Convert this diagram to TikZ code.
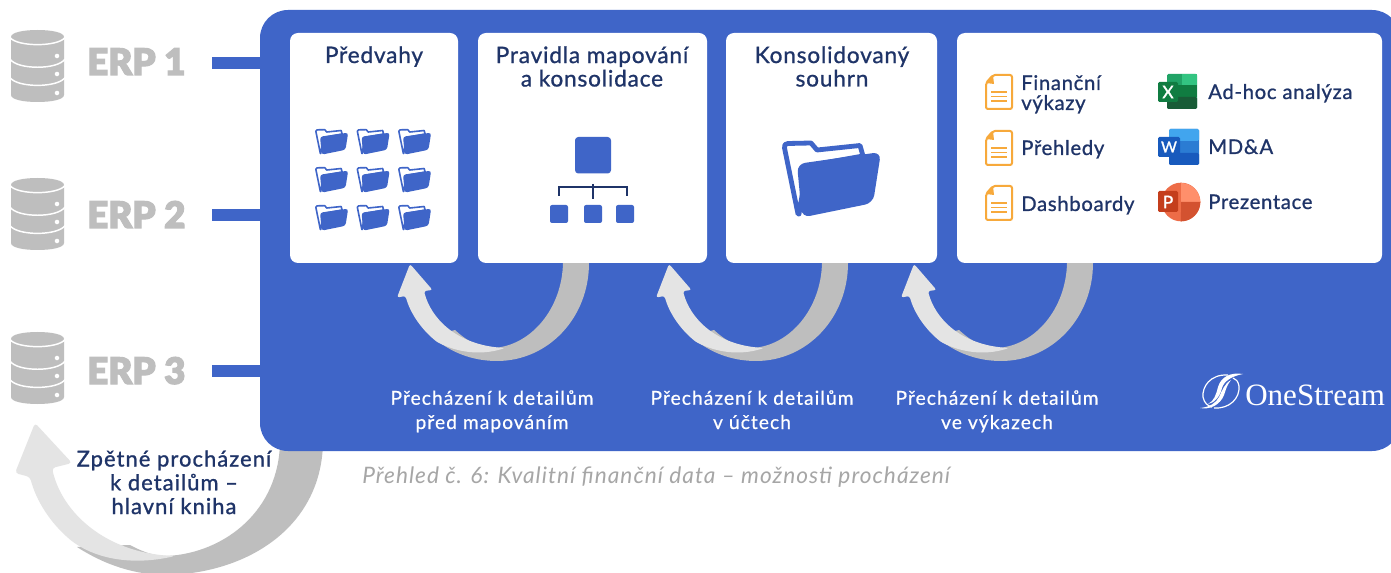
\documentclass[tikz,border=0pt]{standalone}
\usepackage{fontspec}
\setmainfont{Lato}
\newfontfamily\titlef{Lato}[FakeBold=0.9,LetterSpace=3.5]
\newfontfamily\listf{Lato}[FakeBold=0.9,LetterSpace=3.4]
\newfontfamily\detailf{Lato}[FakeBold=0.6,LetterSpace=5.5]
\newfontfamily\backf{Lato}[FakeBold=1.1,LetterSpace=5]
\newfontfamily\capf{Lato}[ItalicFeatures={LetterSpace=4.5}]
\newfontfamily\erpf{Lato Black}[FakeBold=3]
\newfontfamily\iconf{Lato}[FakeBold=1.5]
\newfontfamily\logof{Liberation Serif}
\definecolor{panelblue}{HTML}{3F65C8}
\definecolor{navy}{HTML}{1F3468}
\definecolor{arrowdark}{HTML}{BEBEBE}
\definecolor{arrowlight}{HTML}{E4E4E4}
\definecolor{dbgray}{HTML}{BEBEBE}
\definecolor{capgray}{HTML}{A6A6A6}
\definecolor{docorange}{HTML}{F7A93B}
\definecolor{xla}{HTML}{21A366}\definecolor{xlb}{HTML}{33C481}\definecolor{xlc}{HTML}{107C41}\definecolor{xld}{HTML}{185C37}
\definecolor{wda}{HTML}{2B7CD3}\definecolor{wdb}{HTML}{41A5EE}\definecolor{wdc}{HTML}{185ABD}
\definecolor{ppa}{HTML}{ED6C47}\definecolor{ppb}{HTML}{FF8F6B}\definecolor{ppc}{HTML}{D35230}\definecolor{ppd}{HTML}{C43E1C}
\tikzset{
  x=0.75pt,y=-0.75pt,
  whitebox/.style={fill=white,rounded corners=6pt,inner sep=0pt,outer sep=0pt,draw=none},
  titletext/.style={font=\titlef\fontsize{17}{17.6}\selectfont,text=navy,align=center,anchor=base,inner sep=0pt},
  listtext/.style={font=\listf\fontsize{15.2}{15}\selectfont,text=navy,align=left,anchor=base west,inner sep=0pt},
  detailtext/.style={font=\detailf\fontsize{14.4}{18.2}\selectfont,text=white,align=center,anchor=base,inner sep=0pt},
  erptext/.style={font=\erpf\fontsize{27.5}{27.5}\selectfont,text=arrowdark,anchor=base west,inner sep=0pt},
  erpbar/.style={draw=panelblue,line width=9pt},
  iconletter/.style={font=\iconf\fontsize{13}{13}\selectfont,text=white,inner sep=0pt},
}
\newcommand{\dbicon}[2]{%
 \begin{scope}[shift={(#1,#2)}]
  \fill[dbgray] (0,7) .. controls (0,2.5) and (12,0) .. (26.5,0) .. controls (41,0) and (53,2.5) .. (53,7)
     -- (53,65) .. controls (53,69.5) and (41,72) .. (26.5,72) .. controls (12,72) and (0,69.5) .. (0,65) -- cycle;
  \draw[white,line width=1.1pt] (-1,7.5) .. controls (6,17) and (47,17) .. (54,7.5);
  \draw[white,line width=1.1pt] (-1,29) .. controls (6,40) and (47,40) .. (54,29);
  \draw[white,line width=1.1pt] (-1,47.5) .. controls (6,58) and (47,58) .. (54,47.5);
  \foreach \yy in {26,44,63}{\fill[white] (46,\yy) circle (1.7pt);}
 \end{scope}}
\newcommand{\loopArrow}[1]{%
 \begin{scope}[shift={(#1,0)}]
  \fill[arrowdark] (589,263) .. controls (589,318) and (548,361) .. (497,361)
     .. controls (472,361) and (449,352) .. (432,336) -- (455,330)
     .. controls (468,342) and (480,348) .. (494,348) .. controls (532,345) and (562,308) .. (563,263) -- cycle;
  \fill[arrowlight,rounded corners=1.8pt] (410,264) -- (432.5,290) -- (424,291)
     .. controls (431,318) and (456,345) .. (505,348)
     .. controls (480,356) and (457,352) .. (437,342)
     .. controls (420,328) and (410,312) .. (405.5,296) -- (397,297.5) -- cycle;
 \end{scope}}
\newcommand{\folder}[3]{% x y scale; box 100x80
 \begin{scope}[shift={(#1,#2)},scale=#3]
  \draw[panelblue,line width=#3*3.6pt,line join=round,fill=white]
    (16,76) -- (2.5,10) .. controls (2,7) and (3,5.5) .. (6,5.5) -- (29,5) -- (35,12) -- (78,7.5) -- (81,18) -- (25,28) -- (17,76) -- cycle;
  \fill[panelblue,rounded corners=#3*6pt] (20,79.5) -- (15,26) -- (99,14) -- (91,65) -- cycle;
 \end{scope}}
\newcommand{\docicon}[2]{%
 \begin{scope}[shift={(#1,#2)}]
  \draw[docorange,line width=1.5pt,rounded corners=1.5pt,fill=white]
    (8,1) -- (27,1) -- (27,35) -- (1,35) -- (1,9) -- cycle;
  \fill[docorange] (8,1) -- (9,10) -- (1,9) -- cycle;
  \foreach \yy in {18,22.5,27}{\draw[docorange,line width=1.2pt] (6,\yy) -- (22,\yy);}
 \end{scope}}
\begin{document}
\begin{tikzpicture}
\useasboundingbox (0,0) rectangle (1391,573);
\clip (0,0) rectangle (1391,573);
\fill[white] (0,0) rectangle (1391,573);

% bottom-left arrow, under the panel
\fill[arrowdark] (323,440) .. controls (323,525) and (250,573) .. (167,575)
   .. controls (135,575) and (105,565) .. (77,547) -- (130,545)
   .. controls (145,553) and (155,556) .. (167,556)
   .. controls (225,553) and (280,510) .. (280,440) -- cycle;
\fill[arrowlight,rounded corners=2.5pt] (35,423) -- (72,463) -- (52,468)
   .. controls (62,512) and (105,553) .. (175,556)
   .. controls (135,565) and (100,560) .. (73,542)
   .. controls (50,523) and (36,500) .. (30,477) -- (15,473) -- cycle;

% panel
\node[fill=panelblue,rounded corners=21pt,minimum width=1140*0.75pt,minimum height=441*0.75pt,
      inner sep=0pt,outer sep=0pt,anchor=north west] (panel) at (260,10) {};

% connector stubs
\coordinate (bar1) at (212,63.5);
\coordinate (bar2) at (212,215.5);
\coordinate (bar3) at (212,371);
\draw[erpbar] (bar1) -- (bar1 -| panel.west);
\draw[erpbar] (bar2) -- (bar2 -| panel.west);
\draw[erpbar] (bar3) -- (bar3 -| panel.west);

\dbicon{11}{30}
\dbicon{11}{178}
\dbicon{11}{332}
\node[erptext] (erp1) at (87,75) {ERP 1};
\node[erptext] (erp2) at (87,228) {ERP 2};
\node[erptext] (erp3) at (87,384) {ERP 3};

% loop arrows
\loopArrow{0}
\loopArrow{259}
\loopArrow{504}

% white boxes
\node[whitebox,anchor=north west,minimum width=168*0.75pt,minimum height=230*0.75pt] (b1) at (290,33) {};
\node[whitebox,anchor=north west,minimum width=229*0.75pt,minimum height=230*0.75pt] (b2) at (478,33) {};
\node[whitebox,anchor=north west,minimum width=211*0.75pt,minimum height=230*0.75pt] (b3) at (726,33) {};
\node[whitebox,anchor=north west,minimum width=425*0.75pt,minimum height=230*0.75pt] (b4) at (957,33) {};

\node[titletext] (t1) at (374,63) {Předvahy};
\node[titletext] (t2) at (592,86.5) {Pravidla mapování\\a konsolidace};
\node[titletext] (t3) at (832,86.5) {Konsolidovaný\\souhrn};

% small folders
\foreach \fx in {315,356.5,398}{\foreach \fy in {128,166,204}{\folder{\fx}{\fy}{0.335}}}
% big folder
\folder{782}{138}{1}

% hierarchy
\fill[panelblue,rounded corners=2.5pt] (575,137) rectangle (611,173.5);
\fill[panelblue,rounded corners=1.5pt] (550,205) rectangle (568,223);
\fill[panelblue,rounded corners=1.5pt] (584,205) rectangle (602,223);
\fill[panelblue,rounded corners=1.5pt] (616,205) rectangle (634,223);
\draw[navy,line width=1.3pt] (559,196) |- (627,187) -- (627,196);
\draw[navy,line width=1.3pt] (593,184) -- (593,199);

% doc icons and list
\docicon{985}{74}
\docicon{985}{130}
\docicon{985}{185}
\node[listtext] (l1) at (1021,110) {Finanční\\výkazy};
\node[listtext] (l2) at (1021,155) {Přehledy};
\node[listtext] (l3) at (1021,211) {Dashboardy};
\node[listtext] (l4) at (1208,99) {Ad-hoc analýza};
\node[listtext] (l5) at (1208,154) {MD\&A};
\node[listtext] (l6) at (1208,209) {Prezentace};

% excel
\fill[xla,rounded corners=1pt] (1167,74) rectangle (1197,109);
\fill[xlb] (1182,74.5) rectangle (1196.5,85);
\fill[xlc] (1167,85) rectangle (1197,97);
\fill[xld,rounded corners=1pt] (1167,97) rectangle (1197,109);
\fill[xlc,rounded corners=1pt] (1158,82) rectangle (1178,102);
\node[iconletter] (xl) at (1168,92) {X};
% word
\fill[wda,rounded corners=1pt] (1169,129) rectangle (1199,165);
\fill[wdb,rounded corners=1pt] (1169,129) rectangle (1199,141);
\fill[wdc,rounded corners=1pt] (1169,153) rectangle (1199,165);
\fill[wdc,rounded corners=1pt] (1158,137) rectangle (1180,157);
\node[iconletter,font=\iconf\fontsize{11.5}{11.5}\selectfont] (wd) at (1169,147) {W};
% powerpoint
\fill[ppa] (1181,202) circle (14.5pt);
\fill[ppb] (1181,183) arc[start angle=90,end angle=0,radius=14.5pt] -- (1181,202) -- cycle;
\fill[ppc] (1181,202) -- (1200.3,202) arc[start angle=0,end angle=-90,radius=14.5pt] -- cycle;
\fill[ppd,rounded corners=1pt] (1158,191) rectangle (1178,212);
\node[iconletter] (pp) at (1168,202) {P};

% detail labels
\node[detailtext] (d1) at (492,429) {Přecházení k detailům\\před mapováním};
\node[detailtext] (d2) at (752,429) {Přecházení k detailům\\v účtech};
\node[detailtext] (d3) at (997,429) {Přecházení k detailům\\ve výkazech};

% logo
\begin{scope}[shift={(1200,373)}]
  \draw[white,line width=0.9pt] (28,2) .. controls (10,1) and (2,14) .. (3,24) .. controls (4,30) and (8,33) .. (12,34);
  \draw[white,line width=0.9pt] (14,35) .. controls (30,36) and (40,25) .. (39,13) .. controls (38,8) and (36,6) .. (33,5);
  \fill[white] (43,1) .. controls (30,-1) and (21,4) .. (18,14) .. controls (16,22) and (14,28) .. (8,31)
     .. controls (14,30) and (20,24) .. (22,15) .. controls (24,8) and (32,3) .. (43,1) -- cycle;
  \fill[white] (0,35) .. controls (10,37) and (20,32) .. (24,22) .. controls (26,16) and (27,12) .. (31,7)
     .. controls (24,11) and (22,18) .. (19,24) .. controls (16,30) and (10,34) .. (0,35) -- cycle;
\end{scope}
\node[font=\logof\fontsize{23.3}{23.3}\selectfont,text=white,anchor=base west,inner sep=0pt] (logo) at (1245,405) {OneStream};

% bottom-left label
\node[font=\backf\fontsize{16.4}{17.8}\selectfont,text=navy,align=center,anchor=base,inner sep=0pt] (zp) at (174,514) {Zpětné procházení\\k detailům –\\hlavní kniha};

% caption
\node[font=\capf\itshape\fontsize{17}{17}\selectfont,text=capgray,anchor=base west,inner sep=0pt] (cap) at (362,483) {Přehled č. 6: Kvalitní finanční data – možnosti procházení};
\end{tikzpicture}
\end{document}
